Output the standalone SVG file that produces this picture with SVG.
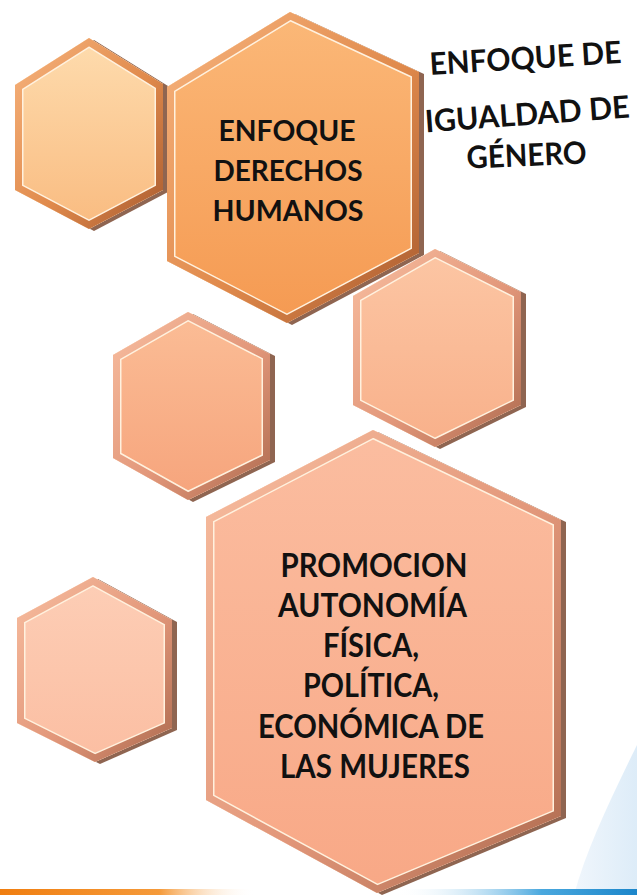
<svg xmlns="http://www.w3.org/2000/svg" xmlns:xlink="http://www.w3.org/1999/xlink" width="637" height="895" viewBox="0 0 637 895">
<style>
.lbl{font-family:Lato,"Open Sans","Liberation Sans",sans-serif;font-weight:700;fill:#111;text-anchor:middle}
.shadow{fill:#7B4A32;opacity:.85}
.hl{fill:none;stroke:#FFF1DE;stroke-width:17}
.rimO{fill:none;stroke:url(#rimO);stroke-width:14}
.rimS{fill:none;stroke:url(#rimS);stroke-width:14}
</style>
<defs>
<linearGradient id="face1" x1="0" y1="0" x2="0" y2="1"><stop offset="0" stop-color="#FEDCAE"/><stop offset="1" stop-color="#F9BB80"/></linearGradient>
<linearGradient id="face2" x1="0" y1="0" x2="0" y2="1"><stop offset="0" stop-color="#FBB878"/><stop offset="1" stop-color="#F59A52"/></linearGradient>
<linearGradient id="face3" x1="0" y1="0" x2="0" y2="1"><stop offset="0" stop-color="#FCC6A4"/><stop offset="1" stop-color="#F8B08A"/></linearGradient>
<linearGradient id="face4" x1="0" y1="0" x2="0" y2="1"><stop offset="0" stop-color="#FBBD96"/><stop offset="1" stop-color="#F6A47C"/></linearGradient>
<linearGradient id="face5" x1="0" y1="0" x2="0" y2="1"><stop offset="0" stop-color="#FDCEB6"/><stop offset="1" stop-color="#FBBEA2"/></linearGradient>
<linearGradient id="face6" x1="0" y1="0" x2="0" y2="1"><stop offset="0" stop-color="#FBBDA0"/><stop offset="1" stop-color="#F8A886"/></linearGradient>
<linearGradient id="rimO" x1="0" y1="0" x2="1" y2="1"><stop offset="0" stop-color="#F7B47E"/><stop offset=".55" stop-color="#E08A4C"/><stop offset="1" stop-color="#A85A2E"/></linearGradient>
<linearGradient id="rimS" x1="0" y1="0" x2="1" y2="1"><stop offset="0" stop-color="#F8BEA0"/><stop offset=".55" stop-color="#E2977A"/><stop offset="1" stop-color="#AD6A4E"/></linearGradient>
<linearGradient id="sky" x1="0" y1="0" x2="1" y2="0"><stop offset="0" stop-color="#F0F6FC"/><stop offset="1" stop-color="#DDECF8"/></linearGradient>
<linearGradient id="bar" x1="0" y1="0" x2="1" y2="0">
<stop offset="0" stop-color="#F07E10"/><stop offset=".25" stop-color="#F59A3A"/><stop offset=".4" stop-color="#FFFFFF" stop-opacity="0"/>
<stop offset=".62" stop-color="#FFFFFF" stop-opacity="0"/><stop offset=".85" stop-color="#4AA8DE"/><stop offset="1" stop-color="#1C86CA"/></linearGradient>
<polygon id="p1" points="89,38 163,84 163,190 89,229 15,190 15,85"/>
<polygon id="p2" points="290,12 419,72 419,253 287,323 167,261 167,87"/>
<polygon id="p3" points="435,249 521,292 521,405 435,447 353,405 353,296"/>
<polygon id="p4" points="188,312 270,354 270,460 188,500 113,458 113,355"/>
<polygon id="p5" points="93,577 172,620 172,728 95,762 17,723 17,618"/>
<polygon id="p6" points="373,430 561,520 561,816 377,893 206,800 206,517"/>
<clipPath id="c1"><use xlink:href="#p1"/></clipPath>
<clipPath id="c2"><use xlink:href="#p2"/></clipPath>
<clipPath id="c3"><use xlink:href="#p3"/></clipPath>
<clipPath id="c4"><use xlink:href="#p4"/></clipPath>
<clipPath id="c5"><use xlink:href="#p5"/></clipPath>
<clipPath id="c6"><use xlink:href="#p6"/></clipPath>
</defs>
<rect width="637" height="895" fill="#FFFFFF"/>
<path d="M637,745 C610,800 586,850 574,895 L637,895 Z" fill="url(#sky)"/>
<rect x="0" y="889" width="637" height="6" fill="url(#bar)"/>

<g id="hex1">
<use xlink:href="#p1" class="shadow" transform="translate(5,2)"/>
<use xlink:href="#p1" fill="url(#face1)"/>
<use xlink:href="#p1" class="hl" clip-path="url(#c1)"/>
<use xlink:href="#p1" class="rimO" clip-path="url(#c1)"/>
</g>
<g id="hex2">
<use xlink:href="#p2" class="shadow" transform="translate(5,2)"/>
<use xlink:href="#p2" fill="url(#face2)"/>
<use xlink:href="#p2" class="hl" clip-path="url(#c2)"/>
<use xlink:href="#p2" class="rimO" clip-path="url(#c2)"/>
<text class="lbl" font-size="28"><tspan x="287" y="141" textLength="137" lengthAdjust="spacingAndGlyphs">ENFOQUE</tspan><tspan x="288" y="181" textLength="149" lengthAdjust="spacingAndGlyphs">DERECHOS</tspan><tspan x="288" y="221" textLength="151" lengthAdjust="spacingAndGlyphs">HUMANOS</tspan></text>
</g>
<g id="hex3">
<use xlink:href="#p3" class="shadow" transform="translate(5,2)"/>
<use xlink:href="#p3" fill="url(#face3)"/>
<use xlink:href="#p3" class="hl" clip-path="url(#c3)"/>
<use xlink:href="#p3" class="rimS" clip-path="url(#c3)"/>
</g>
<g id="hex4">
<use xlink:href="#p4" class="shadow" transform="translate(5,2)"/>
<use xlink:href="#p4" fill="url(#face4)"/>
<use xlink:href="#p4" class="hl" clip-path="url(#c4)"/>
<use xlink:href="#p4" class="rimS" clip-path="url(#c4)"/>
</g>
<g id="hex5">
<use xlink:href="#p5" class="shadow" transform="translate(5,2)"/>
<use xlink:href="#p5" fill="url(#face5)"/>
<use xlink:href="#p5" class="hl" clip-path="url(#c5)"/>
<use xlink:href="#p5" class="rimS" clip-path="url(#c5)"/>
</g>
<g id="hex6">
<use xlink:href="#p6" class="shadow" transform="translate(5,2)"/>
<use xlink:href="#p6" fill="url(#face6)"/>
<use xlink:href="#p6" class="hl" clip-path="url(#c6)"/>
<use xlink:href="#p6" class="rimS" clip-path="url(#c6)"/>
<text class="lbl" font-size="33">
<tspan x="378" y="577" textLength="187" lengthAdjust="spacingAndGlyphs">PROMOCION</tspan>
<tspan x="376" y="617" textLength="188" lengthAdjust="spacingAndGlyphs">AUTONOMÍA</tspan>
<tspan x="375" y="657" textLength="96" lengthAdjust="spacingAndGlyphs">FÍSICA,</tspan>
<tspan x="375" y="697" textLength="136" lengthAdjust="spacingAndGlyphs">POLÍTICA,</tspan>
<tspan x="375" y="738" textLength="226" lengthAdjust="spacingAndGlyphs">ECONÓMICA DE</tspan>
<tspan x="375" y="778" textLength="190" lengthAdjust="spacingAndGlyphs">LAS MUJERES</tspan>
</text>
</g>
<g id="title">
<text class="lbl" font-size="31" x="526" y="69" textLength="192" lengthAdjust="spacingAndGlyphs" transform="rotate(-3.6 526 69)">ENFOQUE DE</text>
<text class="lbl" font-size="31" x="528" y="125" textLength="205" lengthAdjust="spacingAndGlyphs" transform="rotate(-4.2 528 125)">IGUALDAD DE</text>
<text class="lbl" font-size="31" x="527" y="166" textLength="120" lengthAdjust="spacingAndGlyphs" transform="rotate(-2.5 527 166)">GÉNERO</text>
</g>
<g id="connectors"></g>
</svg>
